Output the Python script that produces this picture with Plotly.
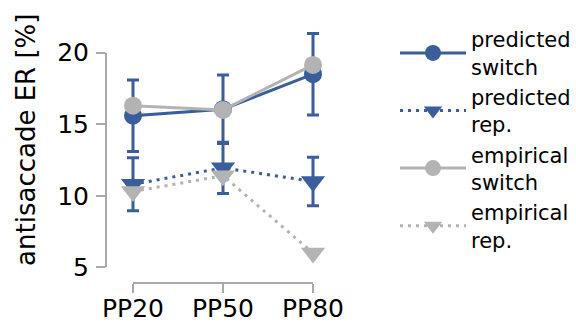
import plotly.graph_objects as go

categories = ["PP20", "PP50", "PP80"]
pred_switch = [15.6, 16.05, 18.5]
pred_switch_err = [2.5, 2.4, 2.85]
pred_rep = [10.8, 11.95, 11.0]
pred_rep_err = [1.85, 1.8, 1.7]
emp_switch = [16.3, 16.0, 19.15]
emp_rep = [10.3, 11.4, 6.0]
y_ticks = [5, 10, 15, 20]

BLUE = "#3a5e9b"
GRAY = "#b3b3b3"
SPINE = "#a9a9a9"
FONT = "DejaVu Sans"

fig = go.Figure()
fig.add_trace(go.Scatter(
    x=categories, y=pred_switch, name="predicted<br>switch", mode="lines+markers",
    line=dict(color=BLUE, width=3), marker=dict(symbol="circle", size=18, color=BLUE),
    error_y=dict(type="data", array=pred_switch_err, color=BLUE, thickness=3, width=6)))
fig.add_trace(go.Scatter(
    x=categories, y=pred_rep, name="predicted<br>rep.", mode="lines+markers",
    line=dict(color=BLUE, width=3, dash="3px,5px"),
    marker=dict(symbol="triangle-down", size=21, color=BLUE),
    error_y=dict(type="data", array=pred_rep_err, color=BLUE, thickness=3, width=6)))
fig.add_trace(go.Scatter(
    x=categories, y=emp_switch, name="empirical<br>switch", mode="lines+markers",
    line=dict(color=GRAY, width=3), marker=dict(symbol="circle", size=18, color=GRAY)))
fig.add_trace(go.Scatter(
    x=categories, y=emp_rep, name="empirical<br>rep.", mode="lines+markers",
    line=dict(color=GRAY, width=3, dash="3px,5px"),
    marker=dict(symbol="triangle-down", size=21, color=GRAY)))

# trimmed spines (seaborn despine-like), drawn in data coordinates
fig.add_shape(type="line", xref="x", yref="paper", x0=0, x1=len(categories) - 1,
              y0=0, y1=0, line=dict(color=SPINE, width=2))
fig.add_shape(type="line", xref="paper", yref="y", x0=0, x1=0,
              y0=min(y_ticks), y1=max(y_ticks), line=dict(color=SPINE, width=2))

# y-axis title as annotation (centred like the reference)
fig.add_annotation(text="antisaccade ER [%]", textangle=-90, xref="paper", yref="paper",
                   x=-0.345, y=0.56, xanchor="center", yanchor="middle", showarrow=False,
                   font=dict(family=FONT, size=26, color="black"))

fig.update_layout(
    width=576, height=329, margin=dict(l=106, r=236, t=27, b=46),
    paper_bgcolor="white", plot_bgcolor="white",
    font=dict(family=FONT, size=25, color="black"),
    showlegend=True,
    legend=dict(xref="container", yref="container", x=1.03, y=0.942,
                xanchor="right", yanchor="top",
                font=dict(family=FONT, size=21, color="black"),
                tracegroupgap=0, valign="middle", itemwidth=66, maxheight=1.0),
)
fig.update_xaxes(type="category", range=[-0.3, 2.3], showgrid=False, zeroline=False,
                 showline=False, ticks="outside", ticklen=9, tickwidth=2, tickcolor=SPINE,
                 tickfont=dict(size=25), automargin=False, ticklabelstandoff=-6)
fig.update_yaxes(range=[3.9, 21.8], tickvals=y_ticks, showgrid=False, zeroline=False,
                 showline=False, ticks="outside", ticklen=9, tickwidth=2, tickcolor=SPINE,
                 tickfont=dict(size=25), automargin=False, ticklabelstandoff=2)

fig.write_html("out.html")
